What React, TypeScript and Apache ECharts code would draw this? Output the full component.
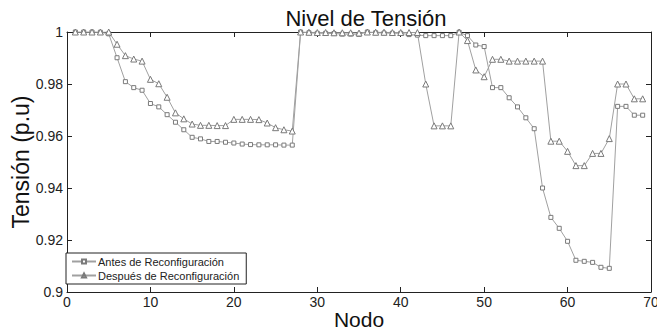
import React, { useEffect, useRef } from "react";
import * as echarts from "echarts";

const nodes = [
  1, 2, 3, 4, 5, 6, 7, 8, 9, 10, 11, 12, 13, 14, 15, 16, 17, 18, 19, 20, 21, 22, 23,
  24, 25, 26, 27, 28, 29, 30, 31, 32, 33, 34, 35, 36, 37, 38, 39, 40, 41, 42, 43, 44,
  45, 46, 47, 48, 49, 50, 51, 52, 53, 54, 55, 56, 57, 58, 59, 60, 61, 62, 63, 64, 65,
  66, 67, 68, 69,
];

const antes = [
  1.0, 1.0, 1.0, 0.9999, 0.9993, 0.9901, 0.9809, 0.9786, 0.9776, 0.9725, 0.9712, 0.9682,
  0.9653, 0.9624, 0.9595, 0.9589, 0.9579, 0.9579, 0.9576, 0.9573, 0.9569, 0.9567, 0.9566,
  0.9566, 0.9566, 0.9565, 0.9565, 1.0, 0.9997, 0.9995, 0.9995, 0.9994, 0.9992, 0.9992,
  0.9991, 1.0, 0.9997, 0.9996, 0.9995, 0.9995, 0.999, 0.9988, 0.9986, 0.9986, 0.9986,
  0.9986, 0.9999, 0.9986, 0.995, 0.9944, 0.9786, 0.9786, 0.9747, 0.9712, 0.967, 0.9628,
  0.94, 0.9287, 0.9245, 0.9195, 0.9122, 0.9118, 0.9114, 0.9095, 0.9091, 0.9714, 0.9714,
  0.968, 0.968,
];

const despues = [
  1.0, 1.0, 1.0, 1.0, 1.0, 0.9953, 0.9909, 0.9896, 0.9888, 0.9818, 0.9801, 0.9749, 0.9689,
  0.9666, 0.9646, 0.9641, 0.9641, 0.964, 0.964, 0.9664, 0.9664, 0.9664, 0.9663, 0.965,
  0.9632, 0.9624, 0.9619, 1.0, 0.9999, 0.9998, 0.9998, 0.9997, 0.9997, 0.9997, 0.9996,
  1.0, 0.9999, 0.9999, 0.9998, 0.9998, 0.9998, 0.9998, 0.98, 0.9639, 0.9639, 0.9639, 1.0,
  0.9967, 0.9854, 0.9828, 0.9895, 0.9895, 0.9888, 0.9888, 0.9888, 0.9888, 0.9888, 0.958,
  0.958, 0.9541, 0.9486, 0.9486, 0.9533, 0.9533, 0.959, 0.98, 0.98, 0.9743, 0.9743,
];

const seriesNames = ["Antes de Reconfiguración", "Después de Reconfiguración"];
const titleText = "Nivel de Tensión";
const xName = "Nodo";
const yName = "Tensión (p.u)";

const FONT = "'Liberation Sans', Arial, sans-serif";
const FRAME = "#222";

export default function App() {
  const ref = useRef<HTMLDivElement>(null);

  useEffect(() => {
    if (!ref.current) return;
    const chart = echarts.init(ref.current, null, { renderer: "svg" });
    const fmtY = (v: number) => String(Number(v.toFixed(2)));
    const baseX = {
      type: "value" as const,
      min: 0,
      max: 70,
      interval: 10,
      splitLine: { show: false },
      axisLine: { show: true, onZero: false, lineStyle: { color: FRAME, width: 1 } },
      axisTick: { show: true, inside: true, length: 5, lineStyle: { color: FRAME } },
    };
    const baseY = {
      type: "value" as const,
      min: 0.9,
      max: 1,
      interval: 0.02,
      splitLine: { show: false },
      axisLine: { show: true, onZero: false, lineStyle: { color: FRAME, width: 1 } },
      axisTick: { show: true, inside: true, length: 5, lineStyle: { color: FRAME } },
    };
    chart.setOption({
      animation: false,
      backgroundColor: "#fff",
      textStyle: { fontFamily: FONT },
      title: {
        text: titleText,
        left: 361,
        textAlign: "center",
        top: 2,
        textStyle: { fontSize: 22, fontWeight: "normal", color: "#111", fontFamily: FONT },
      },
      grid: {
        left: 67,
        right: 6,
        top: 32,
        bottom: 38,
        containLabel: false,
        outerBoundsMode: "none",
      },
      legend: {
        data: seriesNames,
        orient: "vertical",
        left: 66,
        top: 253,
        backgroundColor: "#fff",
        borderColor: FRAME,
        borderWidth: 1,
        borderRadius: 0,
        padding: [3, 7, 3, 5],
        itemGap: 3,
        itemWidth: 24,
        itemHeight: 5,
        textStyle: { fontSize: 11, color: "#222", fontFamily: FONT, padding: [0, 0, 0, -3] },
      },
      xAxis: [
        {
          ...baseX,
          position: "bottom",
          name: xName,
          nameLocation: "middle",
          nameGap: 17,
          nameMoveOverlap: false,
          nameTextStyle: { fontSize: 21, color: "#111", fontFamily: FONT },
          axisLabel: { fontSize: 14, color: "#222", margin: 3, fontFamily: FONT },
        },
        { ...baseX, position: "top", axisLabel: { show: false } },
      ],
      yAxis: [
        {
          ...baseY,
          position: "left",
          name: yName,
          nameLocation: "middle",
          nameGap: 35,
          nameMoveOverlap: false,
          nameTextStyle: { fontSize: 23, color: "#111", fontFamily: FONT },
          axisLabel: { fontSize: 14, color: "#222", margin: 4, formatter: fmtY, fontFamily: FONT },
        },
        { ...baseY, position: "right", axisLabel: { show: false } },
      ],
      series: [
        {
          name: seriesNames[0],
          type: "line",
          xAxisIndex: 0,
          yAxisIndex: 0,
          data: nodes.map((n, i) => [n, antes[i]]),
          symbol: "rect",
          symbolSize: 4,
          showAllSymbol: true,
          lineStyle: { color: "#a0a0a0", width: 1 },
          itemStyle: { color: "#fff", borderColor: "#7a7a7a", borderWidth: 1 },
          emphasis: { disabled: true },
        },
        {
          name: seriesNames[1],
          type: "line",
          xAxisIndex: 0,
          yAxisIndex: 0,
          data: nodes.map((n, i) => [n, despues[i]]),
          symbol: "triangle",
          symbolSize: 6,
          showAllSymbol: true,
          lineStyle: { color: "#a0a0a0", width: 1 },
          itemStyle: { color: "#fff", borderColor: "#7a7a7a", borderWidth: 1 },
          emphasis: { disabled: true },
        },
      ],
    });
    return () => chart.dispose();
  }, []);

  return (
    <div
      ref={ref}
      style={{ position: "absolute", left: 0, top: 0, width: 657, height: 330 }}
    />
  );
}
